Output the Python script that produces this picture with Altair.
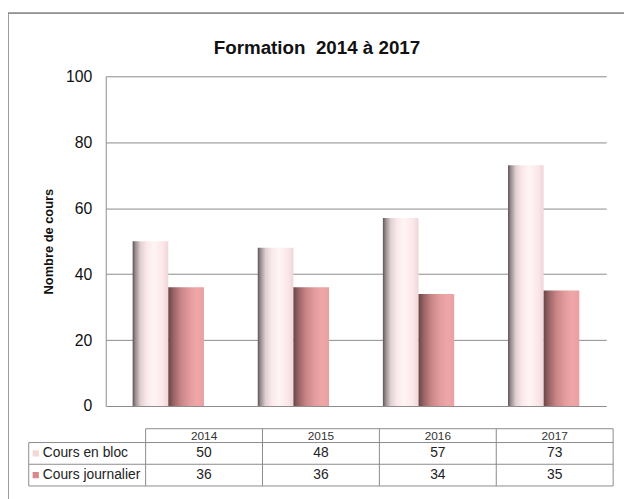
import altair as alt
import pandas as pd

# ---- data ----
years = ["2014", "2015", "2016", "2017"]
series_names = ["Cours en bloc", "Cours journalier"]
cours_en_bloc = [50, 48, 57, 73]
cours_journalier = [36, 36, 34, 35]
chart_title = "Formation\u00a0 2014 à 2017"
y_title = "Nombre de cours"

FONT = "Liberation Sans"
GRAY = "#8a8a8a"

rows = []
for y, v in zip(years, cours_en_bloc):
    rows.append({"year": y, "series": series_names[0], "value": v})
for y, v in zip(years, cours_journalier):
    rows.append({"year": y, "series": series_names[1], "value": v})
bars_df = pd.DataFrame(rows)

grad_light = alt.Gradient(
    gradient="linear", x1=0, x2=1, y1=0, y2=0,
    stops=[
        alt.GradientStop(color="#5e5456", offset=0),
        alt.GradientStop(color="#9a8e90", offset=0.08),
        alt.GradientStop(color="#e0d0d2", offset=0.22),
        alt.GradientStop(color="#fbe9eb", offset=0.4),
        alt.GradientStop(color="#fff5f5", offset=0.6),
        alt.GradientStop(color="#fbe6e8", offset=0.85),
        alt.GradientStop(color="#eed6d8", offset=1),
    ],
)
grad_dark = alt.Gradient(
    gradient="linear", x1=0, x2=1, y1=0, y2=0,
    stops=[
        alt.GradientStop(color="#6a4547", offset=0),
        alt.GradientStop(color="#9a6466", offset=0.15),
        alt.GradientStop(color="#c88486", offset=0.35),
        alt.GradientStop(color="#e39c9e", offset=0.6),
        alt.GradientStop(color="#efa6a7", offset=0.8),
        alt.GradientStop(color="#e8a0a2", offset=1),
    ],
)

x_enc = alt.X("year:N", scale=alt.Scale(paddingInner=0.43, paddingOuter=0.215), axis=None)
xo_enc = alt.XOffset("series:N", scale=alt.Scale(domain=series_names, paddingInner=0, paddingOuter=0))
y_enc = alt.Y(
    "value:Q",
    scale=alt.Scale(domain=[0, 100], nice=False),
    axis=alt.Axis(
        values=[0, 20, 40, 60, 80, 100],
        title=y_title,
        ticks=False,
        labelPadding=14,
        titlePadding=10,
        grid=True,
        labelFont=FONT, labelFontSize=16, labelColor="#111111",
        titleFont=FONT, titleFontSize=13, titleFontWeight="bold", titleColor="#111111",
        domainColor=GRAY, domainWidth=1, gridColor=GRAY, gridWidth=1, gridOpacity=1,
    ),
)

base = alt.Chart(bars_df)
bar_bloc = base.transform_filter(alt.datum.series == series_names[0]).mark_bar(fill=grad_light).encode(
    x=x_enc, xOffset=xo_enc, y=y_enc
)
bar_jour = base.transform_filter(alt.datum.series == series_names[1]).mark_bar(fill=grad_dark).encode(
    x=x_enc, xOffset=xo_enc, y=y_enc
)
bars = alt.layer(bar_bloc, bar_jour)

# ---- data table below the chart ----
ncols = 5
row_edges = [0, 14, 36, 58]
row_mid = [(row_edges[i] + row_edges[i + 1]) / 2 for i in range(3)]

txt_rows = []
for i, y in enumerate(years):
    txt_rows.append({"cx": i + 1.5, "cy": row_mid[0], "t": y, "kind": "head"})
for i, v in enumerate(cours_en_bloc):
    txt_rows.append({"cx": i + 1.5, "cy": row_mid[1], "t": str(v), "kind": "val"})
for i, v in enumerate(cours_journalier):
    txt_rows.append({"cx": i + 1.5, "cy": row_mid[2], "t": str(v), "kind": "val"})
txt_df = pd.DataFrame(txt_rows)

lab_df = pd.DataFrame({
    "cx": [0.12, 0.12],
    "cy": [row_mid[1], row_mid[2]],
    "t": series_names,
    "mx": [0.06, 0.06],
    "col": ["#f4d7d9", "#d98a8e"],
})

rule_rows = []
rule_rows.append({"x": 1, "x2": ncols, "y": row_edges[0], "y2": row_edges[0]})
for e in row_edges[1:]:
    rule_rows.append({"x": 0, "x2": ncols, "y": e, "y2": e})
rule_rows.append({"x": 0, "x2": 0, "y": row_edges[1], "y2": row_edges[3]})
for c in range(1, ncols + 1):
    rule_rows.append({"x": c, "x2": c, "y": row_edges[0], "y2": row_edges[3]})
rule_df = pd.DataFrame(rule_rows)

tx_scale = alt.Scale(domain=[0, ncols], range=[-78, 514], nice=False, zero=False)
ty_scale = alt.Scale(domain=[0, 58], range=[357, 415], nice=False, zero=False)

t_rules = alt.Chart(rule_df).mark_rule(color=GRAY, strokeWidth=1).encode(
    x=alt.X("x:Q", scale=tx_scale, axis=None),
    x2="x2:Q",
    y=alt.Y("y:Q", scale=ty_scale, axis=None),
    y2="y2:Q",
)
t_head = alt.Chart(txt_df).transform_filter(alt.datum.kind == "head").mark_text(
    font=FONT, fontSize=12, color="#333333", baseline="middle", align="center"
).encode(
    x=alt.X("cx:Q", scale=tx_scale, axis=None),
    y=alt.Y("cy:Q", scale=ty_scale, axis=None),
    text="t:N",
)
t_vals = alt.Chart(txt_df).transform_filter(alt.datum.kind == "val").mark_text(
    font=FONT, fontSize=14, color="#222222", baseline="middle", align="center"
).encode(
    x=alt.X("cx:Q", scale=tx_scale, axis=None),
    y=alt.Y("cy:Q", scale=ty_scale, axis=None),
    text="t:N",
)
t_labels = alt.Chart(lab_df).mark_text(
    font=FONT, fontSize=14, color="#222222", baseline="middle", align="left"
).encode(
    x=alt.X("cx:Q", scale=tx_scale, axis=None),
    y=alt.Y("cy:Q", scale=ty_scale, axis=None),
    text="t:N",
)
t_markers = alt.Chart(lab_df).mark_square(size=40, opacity=1).encode(
    x=alt.X("mx:Q", scale=tx_scale, axis=None),
    y=alt.Y("cy:Q", scale=ty_scale, axis=None),
    fill=alt.Fill("col:N", scale=None),
)
frame = alt.Chart(lab_df).mark_rect(fill="transparent", stroke=GRAY, strokeWidth=1.2).encode(
    x=alt.value(-99), x2=alt.value(560), y=alt.value(-64), y2=alt.value(460)
)
title_mark = alt.Chart(pd.DataFrame({"t": [chart_title]})).mark_text(
    font=FONT, fontSize=19, fontWeight="bold", color="#111111", align="center", baseline="middle"
).encode(
    x=alt.value(214), y=alt.value(-29), text="t:N"
)

table = alt.layer(t_rules, t_markers, t_head, t_vals, t_labels, frame, title_mark)

chart = alt.layer(bars, table).resolve_scale(x="independent", y="independent").properties(
    width=507,
    height=334,
    autosize=alt.AutoSizeParams(type="none"),
    padding={"left": 99, "top": 66, "right": 18, "bottom": 91},
    background="white",
).configure_view(
    stroke="transparent"
)

chart.save("out.html", embed_options={"renderer": "svg", "actions": False})
